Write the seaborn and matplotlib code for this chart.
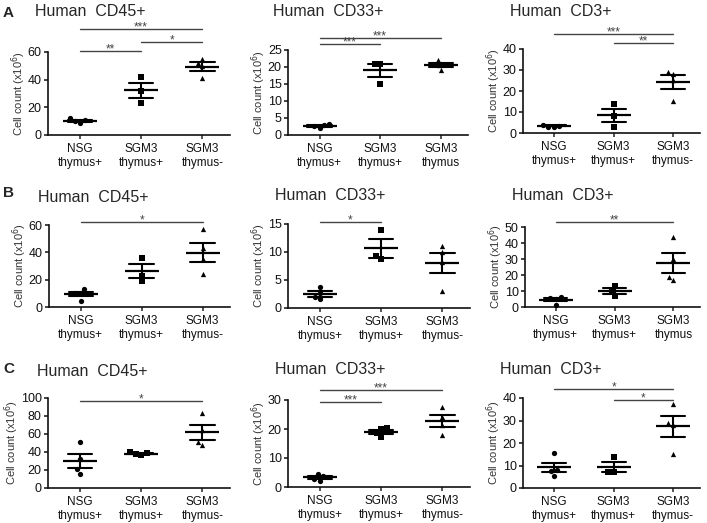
import numpy as np
import pandas as pd
import seaborn as sns
import matplotlib
matplotlib.use("Agg")
import matplotlib.pyplot as plt

sns.set_style("ticks")
plt.rcParams["font.family"] = ["Liberation Sans", "DejaVu Sans"]

# ---------------- data ----------------
groups = ["NSG thymus+", "SGM3 thymus+", "SGM3 thymus-"]
markers = ["o", "s", "^"]

xt_std = ["NSG\nthymus+", "SGM3\nthymus+", "SGM3\nthymus-"]
xt_alt = ["NSG\nthymus+", "SGM3\nthymus+", "SGM3\nthymus"]

# each panel: values per group (NSG thymus+, SGM3 thymus+, SGM3 thymus-)
a_cd45 = [[10.5, 9, 10, 12], [42, 32, 23], [55, 52, 50, 41]]
a_cd33 = [[2.5, 2.0, 3.0, 3.2], [21, 21, 15], [22, 21, 20.5, 19]]
a_cd3 = [[3.0, 3.5, 3.0, 4.0], [14, 8, 3], [29, 28, 25, 15]]
b_cd45 = [[13, 10.5, 10, 4.5], [36, 23, 19], [57, 43, 35, 24]]
b_cd33 = [[3.7, 2.7, 2.0, 1.6], [14, 9.2, 8.7], [11, 10, 8.2, 3]]
b_cd3 = [[6.5, 5.5, 5.0, 1.5], [13, 10, 7], [44, 30, 19, 17]]
c_cd45 = [[51, 32, 21, 16], [39.5, 38.5, 37, 38], [83, 65, 51, 48]]
c_cd33 = [[4.6, 3.8, 2.6, 2.2], [20.2, 20, 18.5, 17.2], [27.5, 24, 21.5, 18]]
c_cd3 = [[15.5, 8, 7.5, 5.5], [14, 7, 7], [37.5, 29, 28, 15]]

panel_values = [[a_cd45, a_cd33, a_cd3], [b_cd45, b_cd33, b_cd3], [c_cd45, c_cd33, c_cd3]]
panel_titles = [["Human  CD45+", "Human  CD33+", "Human  CD3+"]] * 3
panel_letters = ["A", "B", "C"]
panel_ymax = [[60, 25, 40], [60, 15, 50], [100, 30, 40]]
panel_ystep = [[20, 5, 10], [20, 5, 10], [20, 10, 10]]
panel_xticks = [[xt_std, xt_alt, xt_std], [xt_std, xt_std, xt_alt], [xt_std, xt_std, xt_std]]

# significance bars: (from group, to group, height, label)
panel_sig = [
    [[(0, 2, 76.5, "***"), (0, 1, 61, "**"), (1, 2, 67, "*")],
     [(0, 1, 26.8, "***"), (0, 2, 28.5, "***")],
     [(0, 2, 47, "***"), (1, 2, 42.8, "**")]],
    [[(0, 2, 62, "*")],
     [(0, 1, 15.4, "*")],
     [(0, 2, 53, "**")]],
    [[(0, 2, 97, "*")],
     [(0, 1, 29.4, "***"), (0, 2, 33.5, "***")],
     [(0, 2, 44.1, "*"), (1, 2, 39.3, "*")]],
]

# ---------------- layout (pixels) ----------------
W, H = 707, 523
boxes = [[(48, 230, 52, 135), (288, 468, 50, 135), (523, 700, 49, 133)],
         [(49, 230, 225, 307), (288, 470, 224, 308), (525, 700, 227, 307)],
         [(48, 230, 398, 488), (288, 470, 400, 487), (523, 700, 398, 488)]]
title_pos = [[(35, 12), (273, 12), (510, 12)],
             [(38, 198), (275, 195), (512, 195)],
             [(37, 372), (275, 370), (500, 370)]]
letter_pos = [(3, 13), (3, 193), (3, 369)]

fig = plt.figure(figsize=(W / 100, H / 100), dpi=100)

for r in range(3):
    fig.text(letter_pos[r][0] / W, 1 - letter_pos[r][1] / H, panel_letters[r],
             fontsize=11, fontweight="bold", ha="left", va="center")
    for c in range(3):
        l, rr, t, b = boxes[r][c]
        ax = fig.add_axes([l / W, 1 - b / H, (rr - l) / W, (b - t) / H])
        vals = panel_values[r][c]
        df = pd.DataFrame({
            "group": [g for g, v in zip(groups, vals) for _ in v],
            "count": [x for v in vals for x in v],
        })
        for g, mk in zip(groups, markers):
            sub = df[df["group"] == g]
            sns.swarmplot(data=sub, x="group", y="count", order=groups, marker=mk,
                          color="black", size=3.8, linewidth=0, ax=ax, zorder=3,
                          clip_on=False)
        sns.pointplot(data=df, x="group", y="count", order=groups, errorbar="se",
                      capsize=0.4, color="black", markers="_", linestyle="none",
                      markersize=25, markeredgewidth=1.6,
                      err_kws={"linewidth": 1.5}, ax=ax, zorder=4)
        ax.set_xlim(-0.52, 2.45)
        ymax = panel_ymax[r][c]
        ax.set_ylim(0, ymax)
        ax.set_yticks(np.arange(0, ymax + 0.01, panel_ystep[r][c]))
        ax.set_xticks(range(3))
        ax.set_xticklabels(panel_xticks[r][c], fontsize=8.5, color="#111111")
        ax.tick_params(axis="y", labelsize=9, length=3, width=1.1, pad=1.5, colors="#111111")
        ax.tick_params(axis="x", length=3, width=1.1, pad=3)
        ax.set_xlabel("")
        ax.set_ylabel("Cell count (x10$^{6}$)", fontsize=8, color="#333333", labelpad=0)
        sns.despine(ax=ax)
        for s in ["left", "bottom"]:
            ax.spines[s].set_linewidth(1.2)
            ax.spines[s].set_color("#111111")
        for (i, j, y, lab) in panel_sig[r][c]:
            ax.plot([i, j], [y, y], color="#444444", lw=1.0, clip_on=False)
            ax.annotate(lab, xy=((i + j) / 2, y), xytext=(0, -1.0),
                        textcoords="offset points", ha="center", va="baseline",
                        fontsize=8.5, color="#444444", annotation_clip=False)
        tx, ty = title_pos[r][c]
        fig.text(tx / W, 1 - ty / H, panel_titles[r][c], fontsize=11.5,
                 ha="left", va="center")

fig.savefig("out.png", dpi=100)
